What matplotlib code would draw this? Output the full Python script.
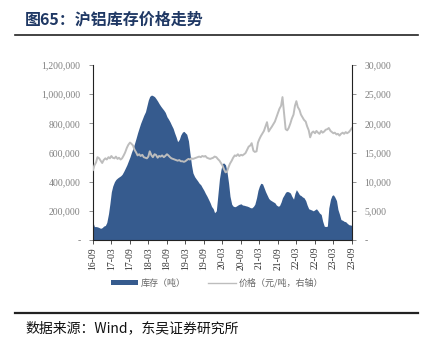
import numpy as np
import pandas as pd
import matplotlib
matplotlib.use("Agg")
import matplotlib.pyplot as plt
import matplotlib.dates as mdates
from matplotlib.ticker import FuncFormatter
from matplotlib.patches import Patch
from matplotlib.lines import Line2D

plt.rcParams['font.family'] = ['Noto Sans CJK SC', 'DejaVu Sans']

# semi-monthly observations, 2016-09 to 2023-09
dates = pd.date_range('2016-09-01', '2023-09-01', freq='SMS')

# SHFE aluminium inventory (tonnes, thousands)
inventory_k = [
    120, 92, 92, 90, 85, 80, 85, 95, 100, 120, 180, 250,
    330, 370, 400, 415, 425, 432, 440, 450, 470, 490, 515, 540,
    570, 600, 630, 660, 700, 735, 770, 800, 830, 855, 880, 920,
    960, 985, 994, 990, 983, 970, 952, 935, 918, 905, 890, 875,
    845, 830, 810, 789, 765, 735, 705, 674, 690, 720, 740, 745,
    735, 725, 680, 600, 514, 460, 434, 420, 405, 390, 378, 360,
    340, 320, 300, 280, 255, 230, 215, 187, 200, 300, 420, 480,
    525, 528, 515, 470, 390, 300, 245, 232, 228, 232, 240, 245,
    248, 240, 238, 235, 232, 228, 222, 220, 230, 245, 290, 340,
    370, 389, 385, 360, 331, 310, 285, 275, 268, 262, 255, 240,
    232, 235, 260, 290, 310, 328, 333, 330, 322, 300, 280, 320,
    345, 330, 310, 305, 295, 290, 270, 240, 214, 210, 205, 200,
    208, 214, 200, 185, 175, 130, 95, 92, 95, 220, 280, 305,
    310, 295, 270, 210, 175, 140, 135, 128, 125, 115, 105, 103,
    100,
]

# price (yuan/tonne, right axis)
price = [
    12000, 12800, 13300, 14200, 14000, 13600, 13200, 13700, 14000, 13800, 14200, 14000,
    14400, 14100, 14000, 14300, 13900, 14100, 13800, 14000, 14500, 15000, 15800, 16300,
    16700, 16500, 16200, 15500, 15000, 14500, 14700, 14400, 14600, 14200, 14100, 14000,
    14300, 15200, 14500, 14200, 14700, 14600, 14100, 14400, 14300, 14500, 14200, 14400,
    14700, 14500, 14200, 14000, 13900, 13800, 13700, 13600, 13700, 13500, 13500, 13400,
    13500, 13700, 13900, 13800, 14000, 13900, 14000, 14100, 14200, 14300, 14200, 14400,
    14300, 14400, 14100, 14000, 13900, 14000, 14100, 14300, 14200, 13900, 13600, 13200,
    12800, 12200, 11600, 11700, 12500, 13100, 13600, 14100, 14500, 14400, 14700, 14400,
    14600, 14500, 14700, 14900, 15500, 16000, 16200, 16600, 15300, 15100, 15200, 16700,
    17300, 17800, 18300, 18700, 19500, 20200, 18600, 19000, 19400, 19800, 20300, 21000,
    21800, 22500, 23000, 24500, 21500, 19000, 18800, 19200, 20000, 20800, 21500, 23000,
    23800, 22800, 22300, 21500, 21000, 20600, 20300, 19500, 18800, 17600, 18400, 18600,
    18300, 18700, 18400, 18200, 18700, 18400, 18600, 18900, 19000, 19200, 18700, 18500,
    18300, 18400, 18100, 18200, 17900, 18200, 18400, 18200, 18500, 18300, 18500, 18800,
    19200,
]

inventory = np.array(inventory_k) * 1000

fill_color = '#365b8e'
line_color = '#bdbdbd'
tick_gray = '#808080'
navy = '#1f3864'

fig = plt.figure(figsize=(4.27, 3.44), dpi=100)
ax = fig.add_axes([93 / 427, 1 - 240 / 344, 259 / 427, 175 / 344])
ax2 = ax.twinx()

ax.fill_between(dates, inventory, 0, color=fill_color, linewidth=0)
ax2.plot(dates, price, color=line_color, linewidth=1.4)

ax.set_xlim(dates[0], dates[-1])
ax.set_ylim(0, 1200000)
ax2.set_ylim(0, 30000)
ax.set_yticks(np.arange(0, 1200001, 200000))
ax2.set_yticks(np.arange(0, 30001, 5000))

fmt = FuncFormatter(lambda v, p: '-' if v == 0 else f'{int(v):,}')
ax.yaxis.set_major_formatter(fmt)
ax2.yaxis.set_major_formatter(fmt)

xticks = pd.date_range('2016-09-01', '2023-09-01', freq='6MS')
ax.set_xticks(xticks)
ax.xaxis.set_major_formatter(mdates.DateFormatter('%y-%m'))

for a in (ax, ax2):
    a.set_facecolor('none')
    for s in a.spines.values():
        s.set_visible(False)
    a.tick_params(labelsize=7, colors=tick_gray, length=3, width=0.6)
    for lab in a.get_yticklabels():
        lab.set_fontfamily('Liberation Serif')

ax.spines['left'].set_visible(True)
ax.spines['left'].set_color('#222222')
ax.spines['left'].set_linewidth(0.8)
ax.spines['bottom'].set_visible(True)
ax.spines['bottom'].set_color('#222222')
ax.spines['bottom'].set_linewidth(0.8)
ax2.spines['right'].set_visible(True)
ax2.spines['right'].set_color('#222222')
ax2.spines['right'].set_linewidth(0.8)

for lab in ax.get_xticklabels():
    lab.set_rotation(90)
    lab.set_fontfamily('Liberation Serif')
    lab.set_color('#333333')
    lab.set_fontsize(7)
ax.tick_params(axis='x', colors='#333333', pad=2)
ax.tick_params(axis='y', pad=6)
ax2.tick_params(axis='y', pad=6)

# legend
handles = [Patch(facecolor=fill_color, edgecolor='none'),
           Line2D([0], [0], color=line_color, linewidth=1.0)]
fig.legend(handles, ['库存（吨）', '价格（元/吨，右轴）'], loc='center',
           bbox_to_anchor=(0.508, 1 - 283 / 344), ncol=2, frameon=False,
           prop={'size': 6.5}, labelcolor='#666666', handlelength=3.0,
           handleheight=0.5, columnspacing=2.5, handletextpad=0.3)

# title and source
fig.text(25 / 427, 1 - 19 / 344, '图65：沪铝库存价格走势', fontsize=11.5,
         fontweight='bold', color=navy, va='center', ha='left')
fig.add_artist(Line2D([15 / 427, 418 / 427], [1 - 35 / 344] * 2,
                      color='#222222', linewidth=1.2))
fig.add_artist(Line2D([15 / 427, 418 / 427], [1 - 313 / 344] * 2,
                      color='#222222', linewidth=1.6))
fig.text(25 / 427, 1 - 328 / 344, '数据来源：Wind，东吴证券研究所', fontsize=10,
         color='#111111', va='center', ha='left')

fig.savefig('out.png', dpi=100)
plt.close(fig)
